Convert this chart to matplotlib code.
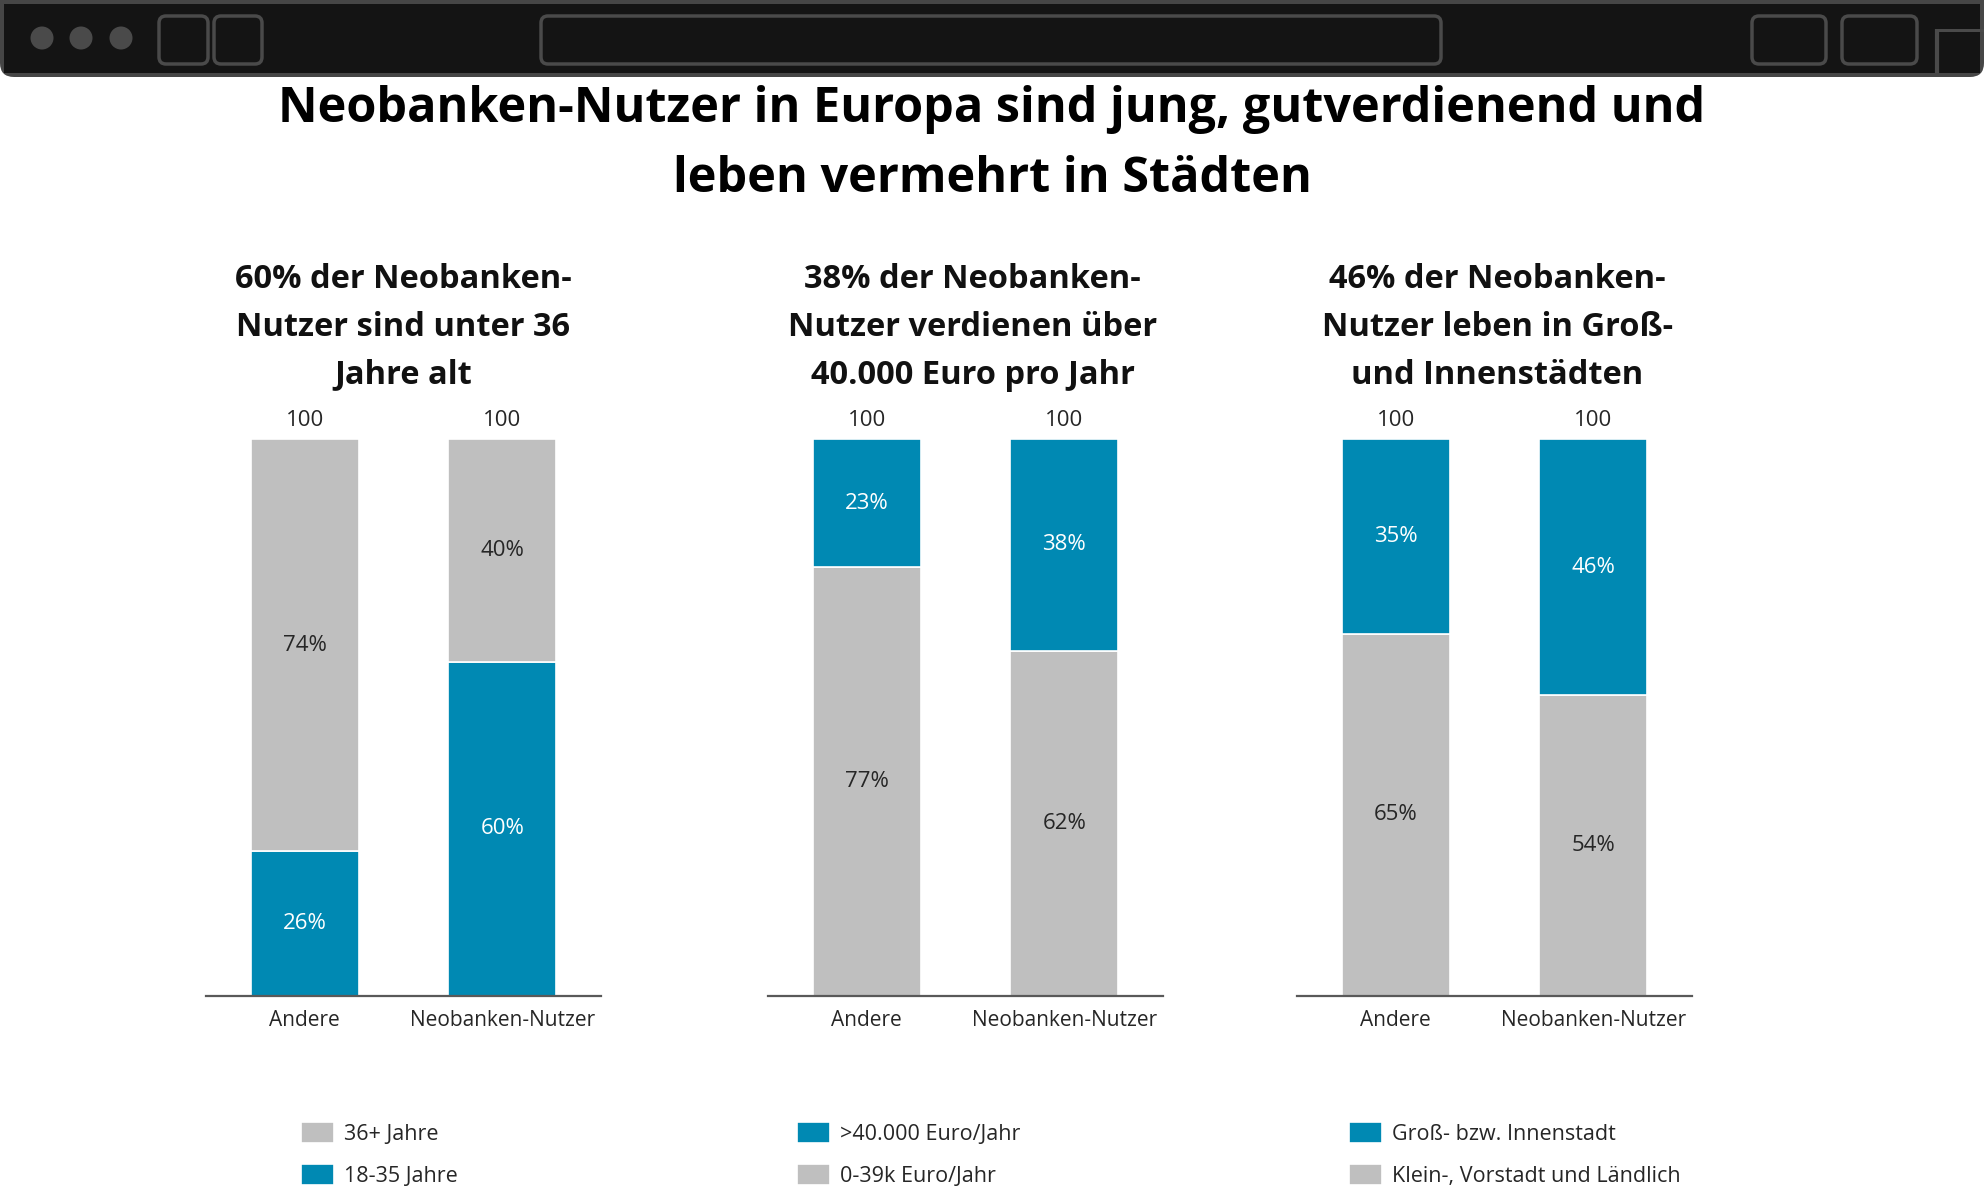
import matplotlib.pyplot as plt
from matplotlib.patches import FancyBboxPatch, Rectangle, Circle

plt.rcParams['font.family'] = ['Open Sans', 'DejaVu Sans']

# Data
groups = ["Andere", "Neobanken-Nutzer"]

titles = [
    ["60% der Neobanken-", "Nutzer sind unter 36", "Jahre alt"],
    ["38% der Neobanken-", "Nutzer verdienen über", "40.000 Euro pro Jahr"],
    ["46% der Neobanken-", "Nutzer leben in Groß-", "und Innenstädten"],
]

age_young = [26, 60]        # 18-35 Jahre
age_old = [74, 40]          # 36+ Jahre
inc_low = [77, 62]          # 0-39k Euro/Jahr
inc_high = [23, 38]         # >40.000 Euro/Jahr
city_rural = [65, 54]       # Klein-, Vorstadt und Ländlich
city_urban = [35, 46]       # Groß- bzw. Innenstadt
totals = [100, 100]

BLUE = '#0089B3'
GREY = '#BFBFBF'
TXT = '#262626'

# (bottom values, bottom colour, bottom label, top values, top colour, top label)
panels = [
    (age_young, BLUE, "18-35 Jahre", age_old, GREY, "36+ Jahre"),
    (inc_low, GREY, "0-39k Euro/Jahr", inc_high, BLUE, ">40.000 Euro/Jahr"),
    (city_rural, GREY, "Klein-, Vorstadt und Ländlich", city_urban, BLUE, "Groß- bzw. Innenstadt"),
]

W, H = 1984, 1196
fig = plt.figure(figsize=(W / 100, H / 100), dpi=100)
fig.patch.set_facecolor('white')

# Browser frame drawn in pixel coordinates
bg = fig.add_axes([0, 0, 1, 1], zorder=0)
bg.set_xlim(0, W)
bg.set_ylim(H, 0)
bg.axis('off')
bg.add_patch(FancyBboxPatch((0, -20), W, 97, boxstyle="round,pad=0,rounding_size=14",
                            facecolor='#464646', edgecolor='none'))
bg.add_patch(Rectangle((4, 4), W - 8, 69, facecolor='#141414', edgecolor='none'))
for cx in [42, 81, 121]:
    bg.add_patch(Circle((cx, 38), 11.5, facecolor='#4a4a4a', edgecolor='none'))
for x0, x1 in [(159, 208), (214, 262), (541, 1441), (1752, 1826), (1842, 1917)]:
    bg.add_patch(FancyBboxPatch((x0, 16), x1 - x0, 48, boxstyle="round,pad=0,rounding_size=7",
                                facecolor='none', edgecolor='#4a4a4a', linewidth=2.5))
bg.plot([1937, 1937], [29, 73], color='#4a4a4a', lw=3, solid_capstyle='butt')
bg.add_patch(Rectangle((1937, 29), 60, 3, facecolor='#4a4a4a', edgecolor='none'))

# Main title
fig.text(0.5, 1 - 109 / H, "Neobanken-Nutzer in Europa sind jung, gutverdienend und",
         ha='center', va='center', fontsize=35, fontweight='bold', color='black')
fig.text(0.5, 1 - 179 / H, "leben vermehrt in Städten",
         ha='center', va='center', fontsize=35, fontweight='bold', color='black')

ax_left = [206, 768, 1297]
ax_w = 395
ax_top = 439
ax_bot = 996
legend_x = [301, 797, 1349]
sub_y = [279, 328, 375]
sub_dx = [0, 7, 3]

x = [0, 1]
for i, (bot, bcol, blab, top, tcol, tlab) in enumerate(panels):
    ax = fig.add_axes([ax_left[i] / W, 1 - ax_bot / H, ax_w / W, (ax_bot - ax_top) / H])
    b1 = ax.bar(x, bot, width=0.545, color=bcol, edgecolor='white', linewidth=1.2)
    b2 = ax.bar(x, top, bottom=bot, width=0.545, color=tcol, edgecolor='white', linewidth=1.2)
    ax.set_xlim(-0.5, 1.5)
    ax.set_ylim(0, 100)
    for s in ['top', 'right', 'left']:
        ax.spines[s].set_visible(False)
    ax.spines['bottom'].set_color('#595959')
    ax.spines['bottom'].set_linewidth(1.6)
    ax.set_yticks([])
    ax.set_xticks(x)
    ax.set_xticklabels(groups, fontsize=15, color=TXT)
    ax.tick_params(axis='x', length=0, pad=10)

    for j in x:
        ax.text(j, bot[j] / 2, f"{bot[j]}%", ha='center', va='center', fontsize=16,
                color='white' if bcol == BLUE else TXT)
        ax.text(j, bot[j] + top[j] / 2, f"{top[j]}%", ha='center', va='center', fontsize=16,
                color='white' if tcol == BLUE else TXT)
        ax.annotate(str(totals[j]), (j, totals[j]), xytext=(0, 6), textcoords='offset points',
                    ha='center', va='bottom', fontsize=16, color=TXT, annotation_clip=False)

    cx = (ax_left[i] + ax_w / 2 + sub_dx[i]) / W
    for k, line in enumerate(titles[i]):
        fig.text(cx, 1 - sub_y[k] / H, line, ha='center', va='center', fontsize=23.5,
                 fontweight='bold', color='#111111')

    leg = ax.legend([b2, b1], [tlab, blab], loc='upper left',
                    bbox_to_anchor=(legend_x[i] / W, 1 - 1122 / H), bbox_transform=fig.transFigure,
                    frameon=False, fontsize=15.5, handlelength=1.53, handleheight=1.12,
                    handletextpad=0.45, labelspacing=0.88, borderpad=0, borderaxespad=0)
    for t in leg.get_texts():
        t.set_color(TXT)

fig.savefig('out.png', dpi=100)
